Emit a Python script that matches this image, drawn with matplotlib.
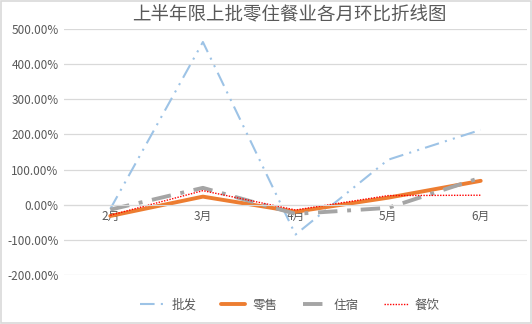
import matplotlib
matplotlib.use('Agg')
import matplotlib.pyplot as plt
from matplotlib.ticker import FuncFormatter

plt.rcParams['font.family'] = ['Noto Sans CJK SC', 'DejaVu Sans']

months = ['2月', '3月', '4月', '5月', '6月']
wholesale = [-12, 463, -85, 128, 213]
retail = [-32, 23, -20, 20, 68]
lodging = [-14, 48, -26, -9, 77]
catering = [-30, 40, -15, 26, 27]

TEXT = '#595959'
GRID = '#D9D9D9'

fig = plt.figure(figsize=(5.32, 3.24), dpi=100)
ax = fig.add_axes([64 / 532, 1 - 275 / 324, (527 - 64) / 532, (275 - 29) / 324])

x = range(len(months))
ax.plot(x, wholesale, color='#9DC3E6', lw=1.5, dashes=(7, 3, 1, 3, 1, 3), label='批发')
ax.plot(x, retail, color='#ED7D31', lw=2.8, solid_capstyle='round', label='零售')
ax.plot(x, lodging, color='#A5A5A5', lw=2.8, dashes=(5, 2.5, 1, 2.5), label='住宿')
ax.plot(x, catering, color='#FF0000', lw=1.0, dashes=(1, 1), label='餐饮')

ax.set_xlim(-0.5, len(months) - 0.5)
ax.set_ylim(-200, 500)
ax.set_yticks(range(-200, 501, 100))
ax.yaxis.set_major_formatter(FuncFormatter(lambda v, _: f'{v:.2f}%'))
ax.set_xticks(list(x))
ax.set_xticklabels(months)
ax.grid(axis='y', color=GRID, lw=0.9)
ax.set_axisbelow(True)

for side in ['top', 'right', 'left']:
    ax.spines[side].set_visible(False)
ax.spines['bottom'].set_position(('data', 0))
ax.spines['bottom'].set_color(GRID)
ax.tick_params(axis='both', length=0, labelsize=8.5, colors=TEXT)
ax.tick_params(axis='x', pad=4)
ax.tick_params(axis='y', pad=4)

fig.text(289 / 532, 1 - 15 / 324, '上半年限上批零住餐业各月环比折线图', ha='center', va='center',
         fontsize=13.3, color=TEXT)

fig.legend(loc='center', bbox_to_anchor=(290 / 532, 1 - 305 / 324), ncol=4, frameon=False,
           fontsize=9, handlelength=1.9, handletextpad=0.6, columnspacing=2.0,
           labelcolor=TEXT)

# light border around the whole chart
fig.patches.append(plt.Rectangle((0.001, 0.002), 0.997, 0.995, transform=fig.transFigure,
                                 fill=False, edgecolor=GRID, lw=1.2))

fig.savefig('out.png', dpi=100, facecolor='white')
